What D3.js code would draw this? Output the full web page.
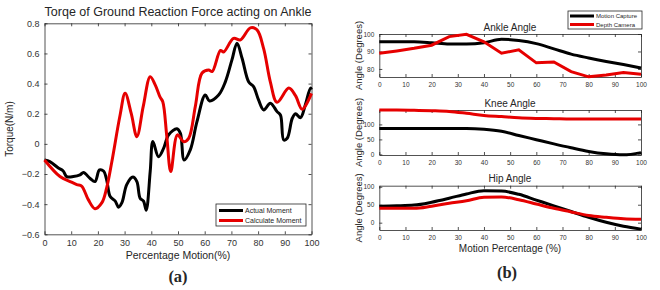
<!DOCTYPE html>
<html lang="en">
<head>
<meta charset="utf-8">
<title>Ankle torque and joint angles</title>
<script src="https://d3js.org/d3.v7.min.js"></script>
<style>
 body { margin: 0; background: #fff; }
 text { font-family: "Liberation Sans", Arial, sans-serif; fill: #262626; }
 .axis path, .axis line { stroke: #262626; }
 .axis text { fill: #333; }
</style>
</head>
<body>
<script>
// Torque chart (a)
var torqueActualX = [0, 2, 5.2, 7, 8.3, 10.8, 13.3, 14.6, 17.1, 18.9, 20.6, 22.1, 23.3, 24.6, 26.5, 27.7, 29, 30.8, 33.1, 34.6, 35.8, 37.1, 38.1, 39.6, 40.6, 42.7, 44.6, 46.5, 49.6, 50.9, 52.3, 54.6, 57.1, 60.2, 61.8, 65.2, 67.7, 70.2, 72.1, 74, 76.5, 78.3, 80.2, 82.1, 84.6, 87.1, 88.4, 89.6, 90.9, 92.8, 94, 95.9, 97.7, 99.6, 100];
var torqueActual = [-0.107, -0.118, -0.16, -0.18, -0.217, -0.217, -0.206, -0.19, -0.23, -0.25, -0.173, -0.18, -0.24, -0.35, -0.38, -0.42, -0.39, -0.27, -0.22, -0.25, -0.36, -0.38, -0.44, -0.18, 0.015, -0.085, -0.03, 0.06, 0.1, 0.07, -0.107, -0.04, 0.147, 0.324, 0.285, 0.324, 0.41, 0.557, 0.668, 0.568, 0.41, 0.38, 0.29, 0.225, 0.27, 0.214, 0.19, 0.026, 0.037, 0.17, 0.2, 0.174, 0.26, 0.37, 0.36];
var torqueCalcX = [0, 5.8, 9.6, 12.1, 13.9, 16.4, 18.9, 21.5, 23.3, 25.2, 28.3, 30.2, 32.5, 34.6, 37, 39.6, 41.5, 43.3, 44.3, 45.8, 47.3, 49.8, 52.1, 54, 56.5, 59, 61.5, 62.8, 65.9, 67.1, 70.8, 73.4, 77.1, 79.6, 82.1, 84.6, 87.1, 91.5, 94, 96.5, 100];
var torqueCalc = [-0.107, -0.217, -0.25, -0.27, -0.28, -0.37, -0.43, -0.39, -0.29, -0.12, 0.19, 0.336, 0.2, 0.048, 0.25, 0.446, 0.39, 0.31, 0.28, 0.05, -0.184, 0.06, 0.015, 0.037, 0.25, 0.47, 0.49, 0.48, 0.62, 0.61, 0.7, 0.69, 0.77, 0.756, 0.63, 0.41, 0.276, 0.37, 0.32, 0.23, 0.335];
var torqueXTicks = [0, 10, 20, 30, 40, 50, 60, 70, 80, 90, 100];
var torqueYTicks = [-0.6, -0.4, -0.2, 0, 0.2, 0.4, 0.6, 0.8];
var torqueLegend = ["Actual Moment", "Calculate Moment"];

// Joint angle charts (b)
var angleX = [0, 6.7, 13.3, 20, 26.7, 33.3, 40, 46.7, 53.3, 60, 66.7, 73.3, 80, 86.7, 93.3, 100];
var ankleCapture = [95.5, 95.5, 95.5, 95, 94.3, 94.3, 95, 97, 96.3, 94.5, 91.5, 88.5, 86.3, 84.3, 82.5, 80.5];
var ankleCamera = [89, 90.3, 91.8, 93.6, 98.5, 99.8, 95.5, 89, 91, 83.5, 84, 78.5, 75.5, 76.5, 78, 77];
var kneeCapture = [86.7, 86.7, 86.7, 86.7, 86.7, 86.7, 84, 77, 63, 49, 35, 22, 10, 2, -1.5, 6];
var kneeCamera = [148, 148, 147, 145.5, 143, 137, 130, 126, 122, 120, 119, 118, 118, 118, 118, 118];
var hipCapture = [46, 47, 49, 57, 68, 80, 89, 88, 79, 63, 47, 31, 15, 1, -10, -18];
var hipCamera = [40, 40, 40, 46, 54, 61, 71, 71.5, 64, 52, 40, 30, 20, 15, 11, 9.5];
var angleXTicks = [0, 10, 20, 30, 40, 50, 60, 70, 80, 90, 100];
var ankleYTicks = [80, 90, 100];
var kneeYTicks = [0, 50, 100];
var hipYTicks = [0, 50, 100];
var angleLegend = ["Motion Capture", "Depth Camera"];

var width = 660, height = 290;
var svg = d3.select("body").append("svg")
    .attr("width", width).attr("height", height);

function zip(xs, ys) { return xs.map(function(x, i) { return [x, ys[i]]; }); }

// draws a boxed MATLAB-style axes with inward ticks on all sides
function boxAxes(x, y, xt, yt, fs, yfmt) {
  var g = svg.append("g");
  var r = x.range(), d = y.range();
  g.append("g").attr("class", "axis").attr("transform", "translate(0," + d[0] + ")")
    .call(d3.axisBottom(x).tickValues(xt).tickSizeInner(-3).tickSizeOuter(0).tickPadding(5))
    .selectAll("text").style("font-size", fs + "px");
  g.append("g").attr("class", "axis").attr("transform", "translate(0," + d[1] + ")")
    .call(d3.axisTop(x).tickValues(xt).tickSizeInner(-3).tickSizeOuter(0).tickFormat(""));
  g.append("g").attr("class", "axis").attr("transform", "translate(" + r[0] + ",0)")
    .call(d3.axisLeft(y).tickValues(yt).tickSizeInner(-3).tickSizeOuter(0).tickPadding(5).tickFormat(yfmt))
    .selectAll("text").style("font-size", fs + "px");
  g.append("g").attr("class", "axis").attr("transform", "translate(" + r[1] + ",0)")
    .call(d3.axisRight(y).tickValues(yt).tickSizeInner(-3).tickSizeOuter(0).tickFormat(""));
  g.selectAll(".axis path").attr("stroke-width", 0.8);
  g.selectAll(".axis line").attr("stroke-width", 0.8);
  return g;
}

// ---- (a) torque ----
var xa = d3.scaleLinear().domain([0, 100]).range([44.5, 311.5]);
var ya = d3.scaleLinear().domain([-0.6, 0.8]).range([234.3, 23.3]);
boxAxes(xa, ya, torqueXTicks, torqueYTicks, 9, function(d) { return d === 0 ? "0" : d3.format(".1f")(d); });

var la = d3.line().x(function(d) { return xa(d[0]); }).y(function(d) { return ya(d[1]); })
    .curve(d3.curveCatmullRom.alpha(0.5));
svg.append("path").datum(zip(torqueActualX, torqueActual)).attr("d", la)
   .attr("fill", "none").attr("stroke", "#000").attr("stroke-width", 3);
svg.append("path").datum(zip(torqueCalcX, torqueCalc)).attr("d", la)
   .attr("fill", "none").attr("stroke", "#e60000").attr("stroke-width", 3);

svg.append("text").attr("x", 178).attr("y", 16).attr("text-anchor", "middle")
   .style("font-size", "12.5px").text("Torqe of Ground Reaction Force acting on Ankle");
svg.append("text").attr("x", 178).attr("y", 259).attr("text-anchor", "middle")
   .style("font-size", "10.5px").text("Percentage Motion(%)");
svg.append("text").attr("transform", "translate(13,129) rotate(-90)").attr("text-anchor", "middle")
   .style("font-size", "10px").text("Torque(N/m)");
svg.append("text").attr("x", 178).attr("y", 282).attr("text-anchor", "middle")
   .style("font-family", "'Liberation Serif', 'Times New Roman', serif").style("font-weight", "bold")
   .style("font-size", "16.5px").text("(a)");

var lga = svg.append("g").attr("transform", "translate(216,204)");
lga.append("rect").attr("width", 90).attr("height", 22).attr("fill", "#fff").attr("stroke", "#262626").attr("stroke-width", 0.8);
torqueLegend.forEach(function(t, i) {
  var yy = 6.5 + i * 10;
  lga.append("line").attr("x1", 3).attr("x2", 27).attr("y1", yy).attr("y2", yy)
     .attr("stroke", i ? "#e60000" : "#000").attr("stroke-width", 3);
  lga.append("text").attr("x", 29).attr("y", yy + 2.6).style("font-size", "7px").text(t);
});

// ---- (b) angles ----
var xb = d3.scaleLinear().domain([0, 100]).range([379.3, 641]);
var panels = [
  { title: "Ankle Angle", dom: [75.4, 100], top: 34, bot: 77, ticks: ankleYTicks, a: ankleCapture, b: ankleCamera, curve: d3.curveMonotoneX, curveB: d3.curveLinear },
  { title: "Knee Angle", dom: [-2, 148], top: 110, bot: 155, ticks: kneeYTicks, a: kneeCapture, b: kneeCamera, curve: d3.curveMonotoneX, curveB: d3.curveMonotoneX },
  { title: "Hip Angle", dom: [-20.4, 103], top: 185.7, bot: 230, ticks: hipYTicks, a: hipCapture, b: hipCamera, curve: d3.curveMonotoneX, curveB: d3.curveMonotoneX }
];
panels.forEach(function(p) {
  var yb = d3.scaleLinear().domain(p.dom).range([p.bot, p.top]);
  boxAxes(xb, yb, angleXTicks, p.ticks, 6.5, d3.format("d"));
  var lineA = d3.line().x(function(d) { return xb(d[0]); }).y(function(d) { return yb(d[1]); }).curve(p.curve);
  var lineB = d3.line().x(function(d) { return xb(d[0]); }).y(function(d) { return yb(d[1]); }).curve(p.curveB);
  svg.append("path").datum(zip(angleX, p.a)).attr("d", lineA)
     .attr("fill", "none").attr("stroke", "#000").attr("stroke-width", 3);
  svg.append("path").datum(zip(angleX, p.b)).attr("d", lineB)
     .attr("fill", "none").attr("stroke", "#e60000").attr("stroke-width", 3);
  svg.append("text").attr("x", 510).attr("y", p.top - 3.5).attr("text-anchor", "middle")
     .style("font-size", "10px").text(p.title);
  svg.append("text").attr("transform", "translate(362," + ((p.top + p.bot) / 2) + ") rotate(-90)")
     .attr("text-anchor", "middle").style("font-size", "9.5px").text("Angle (Degrees)");
});
svg.append("text").attr("x", 510).attr("y", 252).attr("text-anchor", "middle")
   .style("font-size", "10px").text("Motion Percentage (%)");
svg.append("text").attr("x", 507).attr("y", 278).attr("text-anchor", "middle")
   .style("font-family", "'Liberation Serif', 'Times New Roman', serif").style("font-weight", "bold")
   .style("font-size", "16.5px").text("(b)");

var lgb = svg.append("g").attr("transform", "translate(568,11)");
lgb.append("rect").attr("width", 74).attr("height", 18).attr("fill", "#fff").attr("stroke", "#262626").attr("stroke-width", 0.8);
angleLegend.forEach(function(t, i) {
  var yy = 5 + i * 8.5;
  lgb.append("line").attr("x1", 2).attr("x2", 26).attr("y1", yy).attr("y2", yy)
     .attr("stroke", i ? "#e60000" : "#000").attr("stroke-width", 3);
  lgb.append("text").attr("x", 28).attr("y", yy + 2.2).style("font-size", "6px").text(t);
});
</script>
</body>
</html>
